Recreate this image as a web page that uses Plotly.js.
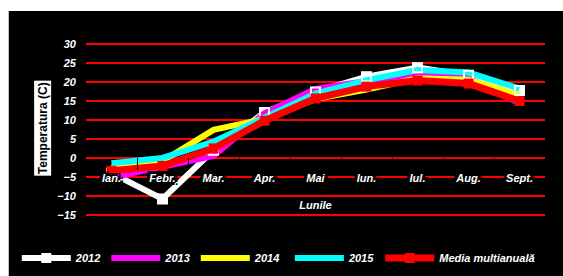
<!DOCTYPE html>
<html><head><meta charset="utf-8">
<script src="https://cdn.plot.ly/plotly-3.0.1.min.js"></script>
<style>
html,body{margin:0;padding:0;background:#fff;width:563px;height:276px;overflow:hidden}
#wrap{position:absolute;left:8px;top:11px;width:555px;height:265px;background:#000;border-left:1px solid #c0c0c0;box-sizing:border-box}
#chart{width:554px;height:265px}
</style></head><body>
<div id="wrap"><div id="chart"></div></div>
<script>
const months = ['Ian.','Febr.','Mar.','Apr.','Mai','Iun.','Iul.','Aug.','Sept.'];
const y2012 = [-4, -10.8, 2, 12, 17.4, 21.4, 23.8, 21.8, 17.8];
const y2013 = [-5.2, -2.5, 0.5, 11.8, 18.2, 20.3, 22, 21, 14.4];
const y2014 = [-2.5, -0.8, 7.4, 10.3, 15.5, 18, 21, 20.6, 16.5];
const y2015 = [-1.4, 0, 4.3, 10.8, 17, 20.5, 23.2, 22.5, 18.3];
const yMedia = [-3.4, -2.1, 2.5, 9.8, 15.7, 18.8, 20.4, 19.6, 15];
const seriesNames = ['2012','2013','2014','2015','Media multianuală'];
const yTicks = [-15,-10,-5,0,5,10,15,20,25,30];

const fontFam = '"Liberation Sans", Arial, sans-serif';
const bi = {family: fontFam, size: 11, color: '#fff', weight: 'bold', style: 'italic'};
const boxShadow = '3px 0 0 #000, -3px 0 0 #000, 0 3px 0 #000, 0 -3px 0 #000, 3px 3px 0 #000, -3px -3px 0 #000, 3px -3px 0 #000, -3px 3px 0 #000, 1px 1px 0 #000, -1px -1px 0 #000';
const xTickFont = Object.assign({}, bi, {shadow: boxShadow});

const traces = [
  {x: months, y: y2012, name: seriesNames[0], legend: 'legend', mode: 'lines+markers', line: {color: '#fff', width: 6},
   marker: {symbol: 'square', size: 10, color: '#fff'}},
  {x: months, y: y2013, name: seriesNames[1], legend: 'legend', mode: 'lines', line: {color: '#ff00ff', width: 6}},
  {x: months, y: y2014, name: seriesNames[2], legend: 'legend', mode: 'lines', line: {color: '#ffff00', width: 6}},
  {x: months, y: y2015, name: seriesNames[3], legend: 'legend2', mode: 'lines', line: {color: '#00ffff', width: 6}},
  {x: months, y: y2012, name: seriesNames[0], mode: 'markers', showlegend: false, hoverinfo: 'skip',
   marker: {symbol: 'square-open', size: 9, color: '#fff', line: {width: 2, color: '#fff'}}},
  {x: months, y: yMedia, name: seriesNames[4], legend: 'legend2', mode: 'lines+markers', line: {color: '#ff0000', width: 7},
   marker: {symbol: 'square', size: 10, color: '#ff0000'}}
];

const legendBase = {
  orientation: 'h', xref: 'container', yref: 'container',
  y: 0.068, xanchor: 'left', yanchor: 'middle',
  bgcolor: 'rgba(0,0,0,0)', font: bi, itemwidth: 49, traceorder: 'normal'
};

const layout = {
  width: 554, height: 265,
  margin: {l: 77, r: 18, t: 32, b: 60, pad: 0},
  paper_bgcolor: '#000', plot_bgcolor: '#000',
  font: bi,
  showlegend: true,
  xaxis: {
    type: 'category', range: [-0.5, 8.5], fixedrange: true,
    showgrid: false, zeroline: false, showline: false,
    anchor: 'free', position: 12.14/45.6,
    ticks: 'inside', tickson: 'boundaries', ticklen: 12, tickcolor: '#000', tickwidth: 1,
    tickfont: xTickFont,
    title: {text: 'Lunile', font: bi, standoff: 18}
  },
  yaxis: {
    range: [-15.3, 30.3], fixedrange: true,
    tickmode: 'array', tickvals: yTicks,
    showgrid: true, gridcolor: '#ff0000', gridwidth: 2,
    zeroline: false, showline: false, ticks: '',
    ticklabelstandoff: 9,
    tickfont: bi
  },
  annotations: [{
    text: 'Temperatura (C)', textangle: -90, showarrow: false,
    xref: 'paper', yref: 'paper', x: -0.095, y: 0.51, xanchor: 'center', yanchor: 'middle',
    font: {family: fontFam, size: 12, color: '#000', weight: 'bold', style: 'normal'},
    bgcolor: '#fff', borderpad: 1
  }],
  legend: Object.assign({}, legendBase, {x: 0.0141}),
  legend2: Object.assign({}, legendBase, {x: 0.507})
};
Plotly.newPlot('chart', traces, layout, {displayModeBar: false, staticPlot: true});
</script>
</body></html>
